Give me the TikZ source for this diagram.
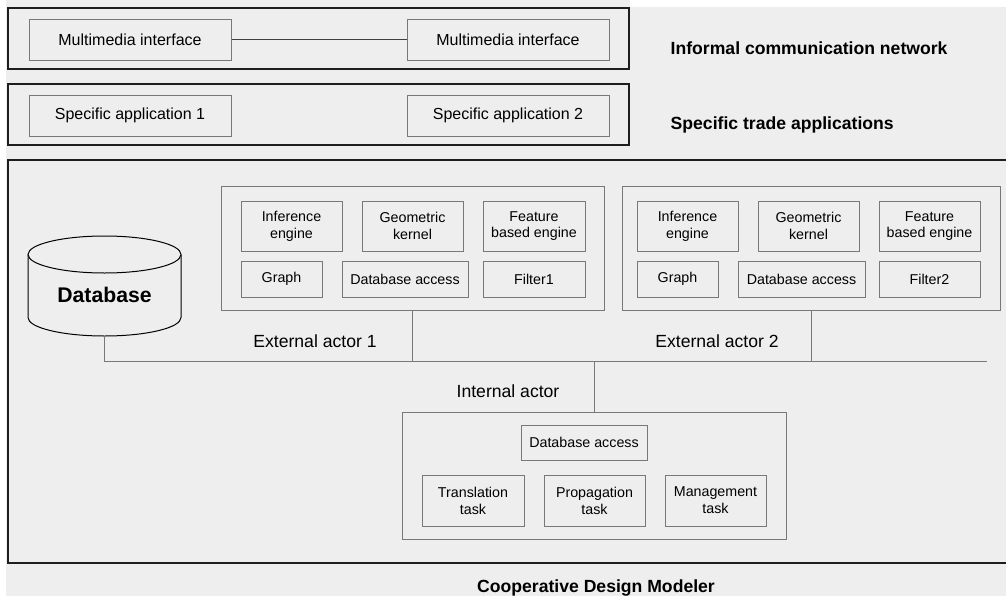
\documentclass[tikz,border=0pt]{standalone}
\usepackage{fontspec}
\setmainfont{Liberation Sans}
\usetikzlibrary{positioning}
\definecolor{paper}{HTML}{EEEEEE}
\definecolor{frame}{HTML}{1E1E1E}
\definecolor{edge}{HTML}{787878}
\tikzset{
  sz/.style 2 args={minimum width=#1*0.75pt, minimum height=#2*0.75pt},
  band/.style={draw=frame, line width=1.1pt, fill=paper},
  actor/.style={draw=edge, line width=0.75pt, fill=paper},
  unit/.style={draw=edge, line width=0.75pt, fill=paper, align=center, inner sep=0pt,
    font=\fontsize{10.7}{12.6}\selectfont},
  wide/.style={unit, font=\fontsize{12}{14}\selectfont},
  wire/.style={draw=edge, line width=0.75pt},
  caption/.style={font=\fontsize{13.2}{15}\selectfont},
  heading/.style={font=\bfseries\fontsize{13.2}{15}\selectfont}
}
\begin{document}
\begin{tikzpicture}[x=0.75pt, y=-0.75pt]
\useasboundingbox (0,0) rectangle (1006,596);
\clip (0,0) rectangle (1006,596);
\fill[paper] (6,0) rectangle (1006,596);
\fill[white] (630,0) rectangle (1006,7);

% informal communication network
\node[band, sz={621}{61}] (net) at (318.5,38.5) {};
\node[wide, sz={202}{41}] (mm1) at (130,39.5) {Multimedia interface};
\node[wide, sz={202}{41}] (mm2) at (508,39.5) {Multimedia interface};
\draw[draw=black!75, line width=0.75pt] (mm1) -- (mm2);
\node[heading, anchor=west] (netlbl) at (666,48) {Informal communication network};

% specific trade applications
\node[band, sz={621}{61}] (trade) at (318.5,114.5) {};
\node[wide, sz={202}{41}] (app1) at (130,115.5) {Specific application 1};
\node[wide, sz={202}{41}] (app2) at (508,115.5) {Specific application 2};
\node[heading, anchor=west] (tradelbl) at (666,125) {Specific trade applications};

% cooperative design modeler (runs off the right edge)
\node[band, sz={1024}{403}] (cdm) at (520,361.5) {};
\node[heading] (cdmlbl) at (596,588) {Cooperative Design Modeler};

% database
\draw[black, line width=0.75pt, fill=paper] (28,254.5) -- (28,317.5)
  arc (180:360:57.375pt and 13.875pt) -- (181,254.5);
\draw[black, line width=0.75pt, fill=paper] (104.5,254.5)
  ellipse [x radius=57.375pt, y radius=13.875pt];
\node[font=\bfseries\fontsize{15.9}{18}\selectfont] (db) at (104.5,295) {Database};
\coordinate (dbfoot) at (104.5,336);

% external actor 1
\node[actor, sz={383}{124}] (ext1) at (412.5,248) {};
\node[unit, sz={101}{50}] (inf1) at (291.5,226) {Inference\\engine};
\node[unit, sz={101}{50}] (geo1) at (412.5,226) {Geometric\\kernel};
\node[unit, sz={102}{50}] (feat1) at (534,226) {Feature\\based engine};
\node[unit, sz={81}{36}] (graph1) at (281.5,279) {Graph};
\node[unit, sz={126}{36}] (dba1) at (405,279) {Database access};
\node[unit, sz={102}{36}] (filt1) at (534,279) {Filter1};
\node[caption] (ext1lbl) at (315,341) {External actor 1};

% external actor 2
\node[actor, sz={378}{124}] (ext2) at (811,248) {};
\node[unit, sz={101}{50}] (inf2) at (687.5,226) {Inference\\engine};
\node[unit, sz={101}{50}] (geo2) at (808.5,226) {Geometric\\kernel};
\node[unit, sz={101}{50}] (feat2) at (929.5,226) {Feature\\based engine};
\node[unit, sz={81}{36}] (graph2) at (677.5,279) {Graph};
\node[unit, sz={127}{36}] (dba2) at (801.5,279) {Database access};
\node[unit, sz={101}{36}] (filt2) at (929.5,279) {Filter2};
\node[caption] (ext2lbl) at (717,341) {External actor 2};

% internal actor
\node[actor, sz={384}{127}] (intl) at (594,475.5) {};
\node[unit, sz={126}{35}] (dba3) at (584,442.5) {Database access};
\node[unit, sz={102}{51}] (trans) at (473,500.5) {Translation\\task};
\node[unit, sz={101}{51}] (prop) at (594.5,500.5) {Propagation\\task};
\node[unit, sz={101}{51}] (mgmt) at (715.5,500.5) {Management\\task};
\node[caption] (intlbl) at (508,391) {Internal actor};

% bus
\coordinate (busend) at (987,361);
\draw[wire] (dbfoot) |- (busend);
\draw[wire] (ext1.south) -- (ext1.south |- busend);
\draw[wire] (ext2.south) -- (ext2.south |- busend);
\draw[wire] (intl.north) -- (intl.north |- busend);
\end{tikzpicture}
\end{document}
